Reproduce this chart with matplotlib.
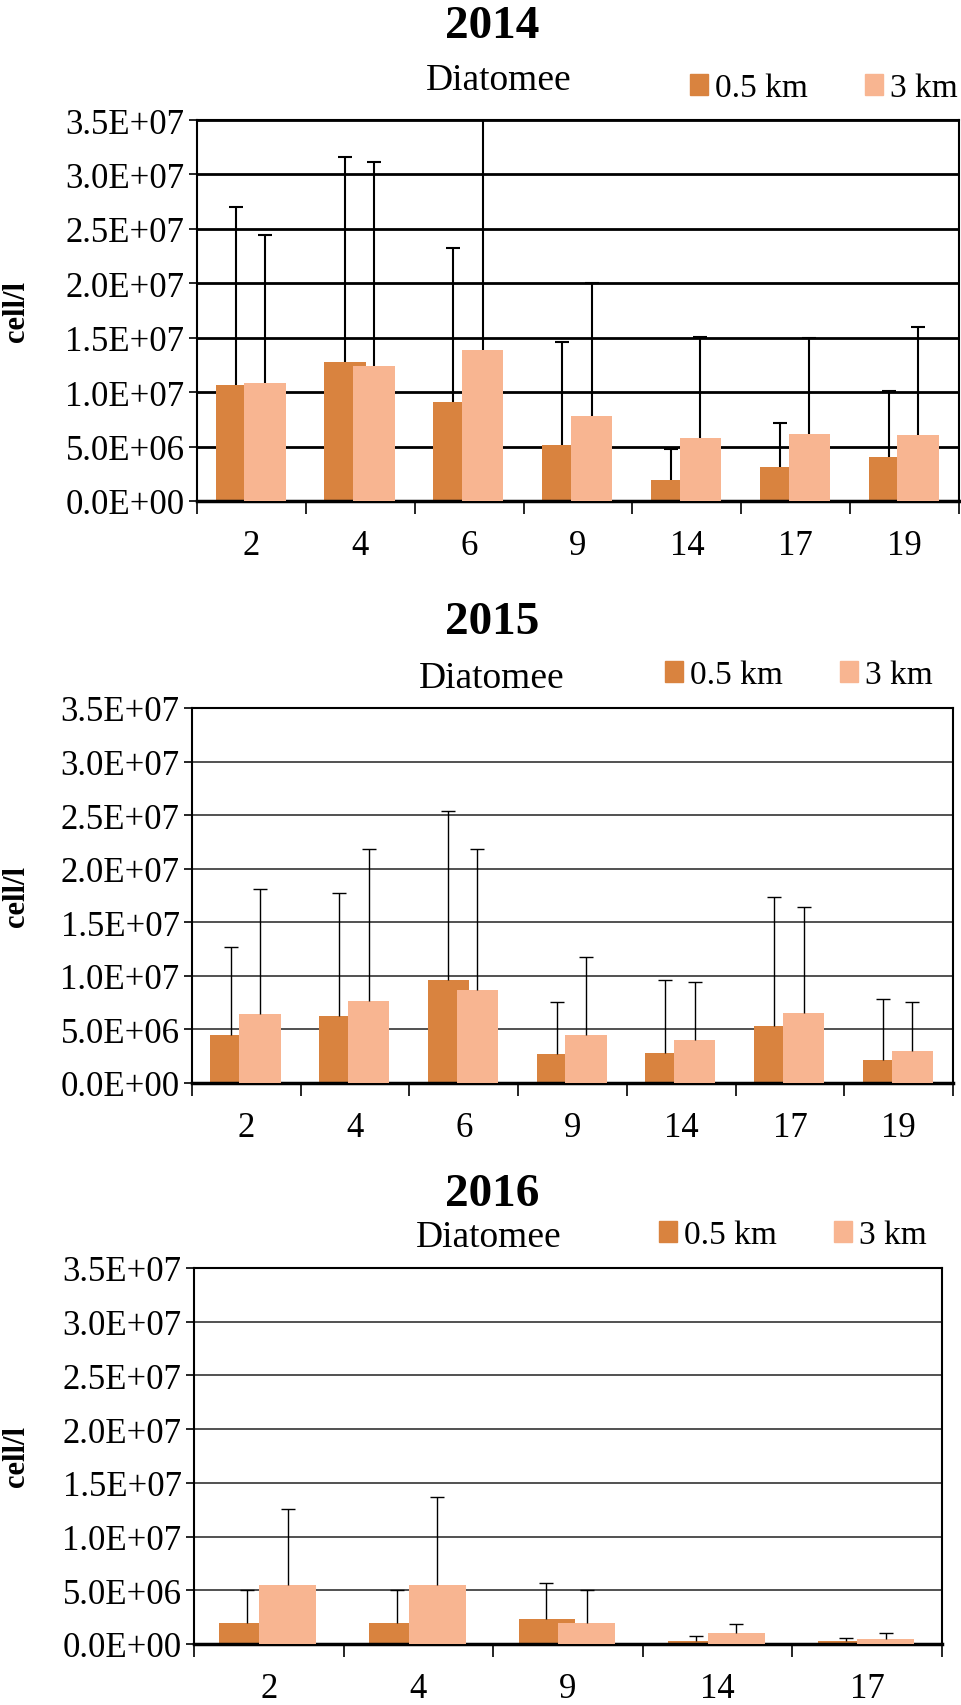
"""Diatomee abundance at 0.5 km and 3 km, 2014-2016 (three stacked panels)."""
import matplotlib; matplotlib.use("Agg")
import matplotlib.pyplot as plt
import matplotlib.patches as mpatches
from matplotlib.ticker import FuncFormatter, FixedLocator
import numpy as np

plt.rcParams["font.family"] = ["Liberation Serif", "DejaVu Serif"]

W, H = 961, 1706
C_NEAR = "#D9833F"
C_FAR = "#F8B591"

# --- data (cell/l), errors are upper SD only ---
sites_2014 = ["2", "4", "6", "9", "14", "17", "19"]
near_2014 = [1.07e7, 1.28e7, 0.91e7, 0.51e7, 0.19e7, 0.31e7, 0.40e7]
far_2014 = [1.08e7, 1.24e7, 1.39e7, 0.78e7, 0.58e7, 0.62e7, 0.61e7]
near_err_2014 = [1.63e7, 1.88e7, 1.41e7, 0.95e7, 0.29e7, 0.41e7, 0.61e7]
far_err_2014 = [1.36e7, 1.87e7, 2.40e7, 1.22e7, 0.93e7, 0.88e7, 0.99e7]

sites_2015 = ["2", "4", "6", "9", "14", "17", "19"]
near_2015 = [0.45e7, 0.63e7, 0.96e7, 0.27e7, 0.28e7, 0.53e7, 0.215e7]
far_2015 = [0.64e7, 0.77e7, 0.87e7, 0.45e7, 0.40e7, 0.65e7, 0.30e7]
near_err_2015 = [0.82e7, 1.14e7, 1.58e7, 0.49e7, 0.68e7, 1.21e7, 0.565e7]
far_err_2015 = [1.17e7, 1.41e7, 1.31e7, 0.73e7, 0.54e7, 0.99e7, 0.46e7]

sites_2016 = ["2", "4", "9", "14", "17"]
near_2016 = [0.20e7, 0.20e7, 0.237e7, 0.025e7, 0.025e7]
far_2016 = [0.553e7, 0.553e7, 0.20e7, 0.10e7, 0.044e7]
near_err_2016 = [0.30e7, 0.30e7, 0.333e7, 0.05e7, 0.034e7]
far_err_2016 = [0.707e7, 0.817e7, 0.30e7, 0.09e7, 0.062e7]

# panel boxes in pixels (left, right, top, bottom), title y, Diatomee pos, legend pos
PANELS = [
    ("2014", sites_2014, near_2014, far_2014, near_err_2014, far_err_2014,
     (197, 959, 121, 502), 27, (499, 81), (690, 89), 2.0, 1.5),
    ("2015", sites_2015, near_2015, far_2015, near_err_2015, far_err_2015,
     (192, 953, 709, 1084), 623, (492, 679), (665, 676), 1.2, 1.0),
    ("2016", sites_2016, near_2016, far_2016, near_err_2016, far_err_2016,
     (194, 942, 1269, 1645), 1195, (489, 1238), (659, 1236), 1.2, 1.0),
]

fig = plt.figure(figsize=(W / 100, H / 100), dpi=100)
fx = lambda x: x / W
fy = lambda y: 1 - y / H


def upper_err(ax, xs, ys, es, lw):
    n = len(ys)
    _, caps, _ = ax.errorbar(xs, ys, yerr=[np.zeros(n), es], fmt="none",
                             ecolor="black", elinewidth=lw, capsize=5,
                             capthick=lw, zorder=4)
    caps[0].set_visible(False)  # only the upper cap


for (year, sites, near, far, enear, efar, (l, r, t, b), ty, (dx, dy), (lx, ly),
     glw, elw) in PANELS:
    ax = fig.add_axes([fx(l), fy(b), (r - l) / W, (b - t) / H])
    n = len(sites)
    x = np.arange(n)
    w = 0.38
    ax.bar(x + 0.36, near, w, color=C_NEAR, zorder=2)
    ax.bar(x + 0.625, far, w, color=C_FAR, zorder=3)
    upper_err(ax, x + 0.355, near, enear, elw)
    upper_err(ax, x + 0.625, far, efar, elw)

    ax.set_xlim(0, n)
    ax.set_ylim(0, 3.5e7)
    ax.yaxis.set_major_locator(FixedLocator(np.arange(0, 3.51e7, 5e6)))
    ax.yaxis.set_major_formatter(FuncFormatter(lambda v, p: f"{v:.1E}"))
    ax.xaxis.set_major_locator(FixedLocator(np.arange(n + 1)))
    ax.xaxis.set_minor_locator(FixedLocator(x + 0.5))
    ax.set_xticklabels([""] * (n + 1))
    ax.set_xticklabels(sites, minor=True)
    ax.tick_params(axis="x", which="major", direction="out", length=9, width=1.2)
    ax.tick_params(axis="x", which="minor", length=0, pad=20, labelsize=25)
    ax.tick_params(axis="y", direction="out", length=6, width=1.2, pad=3, labelsize=25)
    ax.grid(axis="y", color="black" if year == "2014" else "#333333", linewidth=glw, zorder=0)
    ax.set_axisbelow(True)
    for s in ax.spines.values():
        s.set_linewidth(1.5)
    ax.spines["bottom"].set_linewidth(2.5)

    ax.set_ylabel("cell/l", fontsize=22, fontweight="bold")
    ax.yaxis.set_label_coords((31 - l) / (r - l), 0.5)

    fig.text(fx(492), fy(ty), year, ha="center", va="center", fontsize=34, fontweight="bold")
    fig.text(fx(dx), fy(dy), "Diatomee", ha="center", va="center", fontsize=27)
    handles = [mpatches.Patch(color=C_NEAR, label="0.5 km"),
               mpatches.Patch(color=C_FAR, label="3 km")]
    ax.legend(handles=handles, loc="center left", bbox_to_anchor=(fx(lx), fy(ly)),
              bbox_transform=fig.transFigure, ncol=2, frameon=False, fontsize=24,
              handlelength=0.55, handleheight=0.55, handletextpad=0.2,
              columnspacing=1.7, borderpad=0, borderaxespad=0)

fig.savefig("out.png", dpi=100)
